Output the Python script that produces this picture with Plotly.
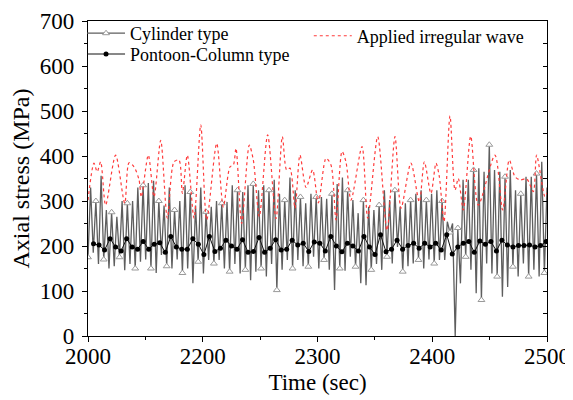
import numpy as np
import plotly.graph_objects as go

# ---------------- data ----------------
# x axis tick labels as printed on the reference (evenly spaced ticks)
x_tick_pos = [2000, 2125, 2250, 2375, 2500]
x_tick_text = ["2000", "2200", "2300", "2400", "2500"]

# Cylinder type: axial stress (MPa), evenly sampled between 2000 and 2500
cylinder_vals = [
    175, 330, 185, 300, 160, 356, 170, 280, 150, 275, 155, 265, 175, 300, 146, 295,
    160, 300, 150, 330, 165, 335, 170, 340, 150, 345, 140, 300, 180, 290, 155, 330,
    150, 280, 170, 300, 140, 335, 150, 320, 117, 290, 165, 330,
    139, 276, 169, 287, 161, 300, 169, 295, 150, 298, 143, 335, 160, 324, 139, 320,
    147, 335, 124, 338, 143, 324, 150, 335, 132, 324, 160, 347, 102, 316, 147, 302,
    169, 352, 150, 324, 169, 309, 155, 295, 154, 316, 176, 309,
    150, 309, 169, 305, 147, 316, 102, 338, 150, 352, 145, 324, 176, 302, 154, 273,
    117, 302, 113, 287, 147, 280, 160, 291, 147, 324, 176, 302, 161, 324, 198, 287,
    143, 295, 155, 302, 161, 316, 169, 324, 150, 302, 170, 316,
    161, 324, 169, 300, 169, 254, 230, 250, 0, 240, 117, 347, 176, 347, 147, 369,
    95, 373, 80, 365, 161, 425, 139, 369, 132, 365, 87, 354, 109, 369, 154, 324,
    132, 316, 161, 354, 132, 354, 147, 361, 132, 387, 140, 330,
]

# Pontoon-Column type: axial stress (MPa), evenly sampled
pontoon_vals = [
    205, 202, 191, 216, 198, 189, 216, 198, 193, 210, 193, 204, 207, 186, 221, 198,
    193, 193, 216, 204, 181,
    221, 188, 195, 213, 200, 193, 214, 186, 188, 219, 186, 195, 214, 191, 193, 213,
    202, 206, 188, 209,
    206, 189, 221, 200, 187, 206, 200, 189, 221, 198, 181, 225, 187, 193, 213, 193,
    201, 206, 195, 206, 198,
    206, 191, 225, 182, 198, 206, 210, 186, 211, 204, 210, 189, 213, 202, 198, 201,
    201, 202, 198, 201, 210,
]

# Applied irregular wave: key points (time, MPa) of the dotted red curve
wave_t = [
    2000, 2006.5, 2010, 2013.8, 2019.2, 2030.1, 2040, 2044.7, 2050.1, 2055.6, 2058.1,
    2065.7, 2071.9, 2079.2, 2086.4, 2093.7, 2099.1, 2102.8, 2108.2, 2115.5, 2122.8,
    2129.3, 2140.2, 2147.4, 2154.7, 2158.3, 2161.2, 2167.4, 2175.7, 2180.1, 2186.6,
    2195.7, 2204.8, 2211.7, 2216.4, 2220, 2225.5, 2230.9, 2237.5, 2244.7, 2250.9,
    2259.3, 2264.7, 2270.2, 2276.7, 2281, 2286.5, 2298.5, 2304.7, 2315.6, 2325.7,
    2334.4, 2341, 2351.8, 2360.9, 2366.4, 2373.6, 2379.1, 2382.7, 2387.8, 2394.3,
    2399.8, 2403.4, 2408.8, 2416.9, 2425.2, 2443.3, 2451.7, 2458.9, 2465.1, 2470.6,
    2477.9, 2485.1, 2488.7, 2497.7, 2500,
]
wave_vals = [
    302, 384, 365, 387, 291, 402, 295, 385, 376, 347, 309,
    402, 309, 435, 262, 387, 391, 317, 402, 262, 469,
    258, 428, 287, 376, 380, 417, 250, 424, 391, 265,
    447, 261, 443, 369, 373, 284, 402, 330, 369, 296,
    395, 380, 258, 410, 387, 302, 421, 262, 443, 235,
    443, 284, 384, 298, 387, 317, 384, 354, 254, 489,
    324, 350, 280, 444, 291, 402, 280, 391, 354, 347,
    349, 321, 402, 310, 318,
]

# ---------------- figure ----------------
cyl_t = np.linspace(2000, 2500, len(cylinder_vals))
pon_t = np.linspace(2006, 2499, len(pontoon_vals))

FONT = "Times New Roman, Liberation Serif, serif"

fig = go.Figure()

fig.add_trace(go.Scatter(
    x=cyl_t, y=cylinder_vals, mode="lines+markers", name="Cylinder type",
    line=dict(color="#5e5e5e", width=1.3),
    marker=dict(symbol="triangle-up", size=6, color="white", maxdisplayed=60,
                line=dict(color="#9a9a9a", width=1)),
    legend="legend",
))
fig.add_trace(go.Scatter(
    x=pon_t, y=pontoon_vals, mode="lines+markers", name="Pontoon-Column type",
    line=dict(color="#111111", width=1),
    marker=dict(symbol="circle", size=5, color="black"),
    legend="legend3",
))
fig.add_trace(go.Scatter(
    x=wave_t, y=wave_vals, mode="lines", name="Applied irregular wave",
    line=dict(color="#ff3b3b", width=1.2, dash="dot", shape="spline", smoothing=0.8),
    legend="legend2",
))
# invisible trace so that the right-hand axis (inside ticks) is drawn
fig.add_trace(go.Scatter(x=[2000], y=[-100], yaxis="y2", mode="markers",
                         showlegend=False, hoverinfo="skip"))

axis_common = dict(
    showgrid=False, zeroline=False, linecolor="black", linewidth=1.3,
    tickcolor="black", tickwidth=1.2,
    tickfont=dict(family=FONT, size=23, color="black"),
)

legend_font = dict(family=FONT, size=18, color="black")

# the page adds an 8 px body margin, so the figure is 8 px smaller than the window
fig.update_layout(
    width=565, height=392,
    margin=dict(l=80, r=26, t=13, b=64, autoexpand=False),
    paper_bgcolor="white", plot_bgcolor="white",
    font=dict(family=FONT, color="black"),
    xaxis=dict(
        axis_common, range=[2000, 2500], tickvals=x_tick_pos, ticktext=x_tick_text,
        ticks="outside", ticklen=5, mirror=True, ticklabelstandoff=-6,
        minor=dict(tickvals=[2062.5, 2187.5, 2312.5, 2437.5], ticks="outside",
                   ticklen=3, tickcolor="black", tickwidth=1.2),
        title=dict(text="Time (sec)", font=dict(family=FONT, size=23), standoff=6),
    ),
    yaxis=dict(
        axis_common, range=[0, 700], tickvals=[0, 100, 200, 300, 400, 500, 600, 700],
        ticks="outside", ticklen=5, mirror=True, ticklabelstandoff=3,
        minor=dict(dtick=50, ticks="outside", ticklen=3, tickcolor="black", tickwidth=1.2),
        title=dict(text="Axial stress (MPa)", font=dict(family=FONT, size=24), standoff=16),
    ),
    yaxis2=dict(
        overlaying="y", side="right", anchor="x", range=[0, 700], showgrid=False,
        zeroline=False, showline=False, showticklabels=False, ticks="inside",
        ticklen=4, tickcolor="black", tickwidth=1.2,
        tickvals=[0, 100, 200, 300, 400, 500, 600, 700],
        minor=dict(dtick=50, ticks="inside", ticklen=4, tickcolor="black", tickwidth=1.2),
    ),
    legend=dict(
        x=-0.013, y=1.019, xanchor="left", yanchor="top", bgcolor="rgba(0,0,0,0)",
        font=legend_font, itemwidth=38,
    ),
    legend3=dict(
        x=-0.013, y=0.953, xanchor="left", yanchor="top", bgcolor="rgba(0,0,0,0)",
        font=legend_font, itemwidth=38,
    ),
    legend2=dict(
        x=0.481, y=1.011, xanchor="left", yanchor="top", bgcolor="rgba(0,0,0,0)",
        font=legend_font, itemwidth=38,
    ),
    showlegend=True,
)

fig.write_html("out.html")
